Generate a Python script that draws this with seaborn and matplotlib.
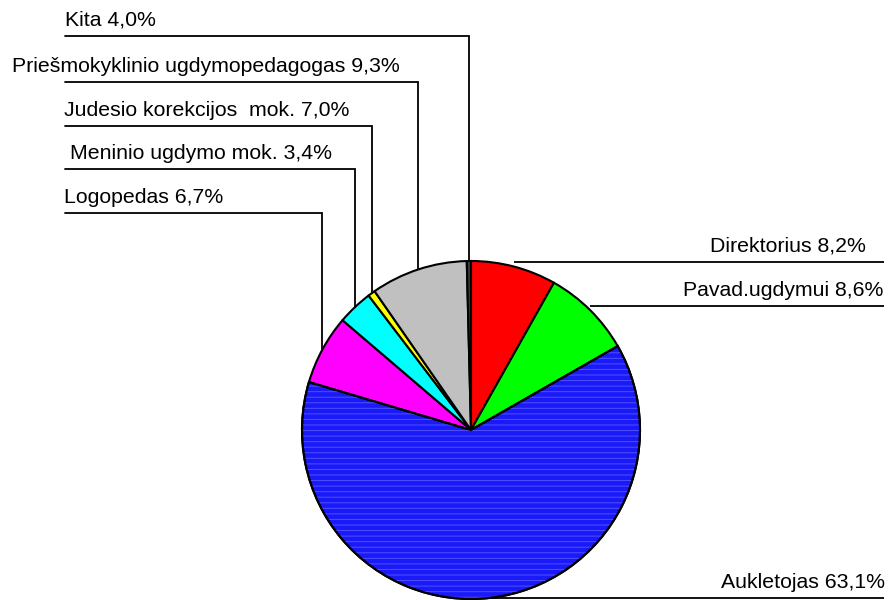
import matplotlib
matplotlib.use("Agg")

import numpy as np
import matplotlib.pyplot as plt
import matplotlib.patches as mpatches
import seaborn as sns

sns.set_theme(style="white")
plt.rcParams['font.family'] = ['Liberation Sans', 'DejaVu Sans']
plt.rcParams['hatch.linewidth'] = 0.7

# data (clockwise from 12 o'clock)
categories = ["Direktorius", "Pavad.ugdymui", "Aukletojas", "Logopedas",
              "Meninio ugdymo mok.", "Judesio korekcijos  mok.",
              "Priešmokyklinio ugdymopedagogas", "Kita"]
values = [8.2, 8.6, 63.1, 6.7, 3.4, 0.7, 9.3, 0.4]
value_labels = ["8,2%", "8,6%", "63,1%", "6,7%", "3,4%", "7,0%", "9,3%", "4,0%"]
colors = ["#ff0000", "#00ff00", "#1a1af8", "#ff00ff", "#00ffff", "#ffff00", "#c0c0c0", "#3a3a3a"]

# label layout (pixel space, y from top)
right_side = {"Direktorius": (262, 866), "Pavad.ugdymui": (306, 883), "Aukletojas": (598, 885)}
left_side = {"Logopedas": (213, 64), "Meninio ugdymo mok.": (169, 70),
             "Judesio korekcijos  mok.": (126, 64),
             "Priešmokyklinio ugdymopedagogas": (82, 12), "Kita": (36, 65)}

W, H = 896, 600
cx, cy, r = 471, H - 430, 169

fig = plt.figure(figsize=(8.96, 6), dpi=100)
ax = fig.add_axes([0, 0, 1, 1])
wedges, _ = ax.pie(values, colors=colors, startangle=90, counterclock=False,
                   center=(cx, cy), radius=r,
                   wedgeprops=dict(edgecolor="black", linewidth=1.5))

# striped texture on the big blue slice
big = wedges[2]
stripes = mpatches.Wedge((cx, cy), r, big.theta1, big.theta2, facecolor="none",
                         edgecolor="#5050ff", hatch="---", linewidth=0, zorder=big.get_zorder() + 0.1)
ax.add_patch(stripes)
outline = mpatches.Wedge((cx, cy), r, big.theta1, big.theta2, facecolor="none",
                         edgecolor="black", linewidth=1.5, zorder=big.get_zorder() + 0.2)
ax.add_patch(outline)

ax.set_xlim(0, W)
ax.set_ylim(0, H)
ax.set_aspect("equal")
ax.axis("off")

for w, cat, lab in zip(wedges, categories, value_labels):
    mid = np.deg2rad((w.theta1 + w.theta2) / 2)
    ax_x = cx + r * np.cos(mid)
    ax_y = cy + r * np.sin(mid)
    text = f"{cat} {lab}"
    if cat in right_side:
        y_line, x_text = right_side[cat]
        yl = H - y_line
        ax.plot([ax_x, 884], [yl, yl], color="black", lw=1.3, solid_capstyle="butt")
        ax.text(x_text, yl + 6, text, ha="right", va="bottom", fontsize=15.3, color="black")
    else:
        y_line, x_text = left_side[cat]
        yl = H - y_line
        ax.plot([65, ax_x, ax_x], [yl, yl, ax_y], color="black", lw=1.3,
                solid_joinstyle="miter")
        ax.text(x_text, yl + 6, text, ha="left", va="bottom", fontsize=15.3, color="black")

plt.savefig("out.png", dpi=100, facecolor="white")
plt.close()
